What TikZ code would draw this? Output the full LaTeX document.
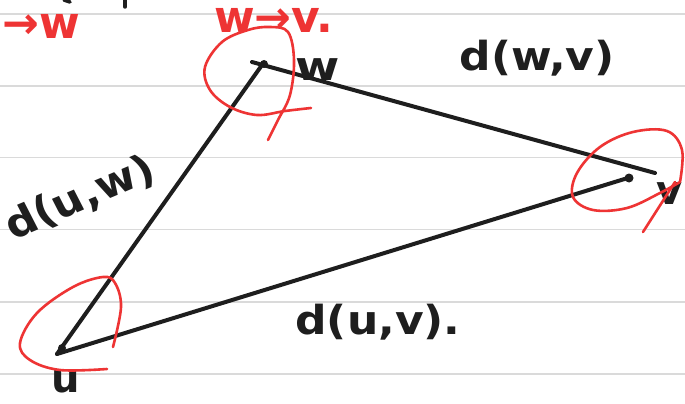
\documentclass[tikz,border=0pt]{standalone}
\usepackage{fontspec}
\setmainfont{DejaVu Sans}
\definecolor{ink}{RGB}{30,30,30}
\definecolor{pen}{RGB}{238,52,52}
\definecolor{rule}{RGB}{218,218,218}
\tikzset{
  ruleline/.style={draw=rule, line width=1.6pt},
  edge/.style={draw=ink, line width=4pt, line cap=round},
  loopline/.style={draw=pen, line width=2.6pt, line cap=round, line join=round},
  hand/.style={text=ink, inner sep=0pt, font=\fontsize{40}{42}\selectfont\bfseries},
  redhand/.style={text=pen, inner sep=0pt, font=\fontsize{44}{46}\selectfont\bfseries},
  vdot/.style={fill=ink, circle, inner sep=0pt, minimum size=8pt},
}
\begin{document}
\begin{tikzpicture}[x=1pt,y=-1pt]
\useasboundingbox[fill=white] (0,0) rectangle (685,404);
% ruled paper
\foreach \yy in {14,86,157.5,229.5,302,374}
  \draw[ruleline] (0,\yy) -- (685,\yy);
% cut-off strokes at the top
\draw[edge, line width=3.5pt] (64,0) -- (70,2);
\draw[edge, line width=3.5pt] (125,0) -- (125,7);
% vertices
\coordinate (u) at (57,354);
\coordinate (w) at (262,65);
\coordinate (v) at (631,177);
\coordinate (wstart) at (252,62);
\coordinate (vend) at (655,173);
\node[vdot] (udot) at (62,348) {};
\node[vdot] (wdot) at (264,64) {};
\node[vdot, minimum size=9pt] (vdotn) at (629,178) {};
% edges
\draw[edge] (u) -- (w);
\draw[edge] (u) -- (v);
\draw[edge] (wstart) -- (vend);
% vertex labels
\node[hand, xscale=1.2] (wlab) at (318,70) {w};
\node[hand] (vlab) at (670,194) {v};
\node[hand] (ulab) at (66,382) {u};
% edge labels
\node[hand, xscale=1.1] (dwv) at (537,58) {d(w,v)};
\node[hand, xscale=1.1, rotate=25] (duw) at (80,198) {d(u,w)};
\node[hand, xscale=1.1] (duv) at (378,322) {d(u,v).};
% red annotations
\node[redhand, anchor=east] (rw) at (80,26) {→w};
\node[redhand] (wv) at (274,20) {w→v.};
% red loops
\draw[loopline] plot[smooth, tension=0.6] coordinates {(311,108) (285,111) (257,115) (230,107) (210,90) (205,67) (222,42) (248,30) (270,27) (288,32) (294,60) (290,95) (278,120) (268,140)};
\draw[loopline] plot[smooth, tension=0.6] coordinates {(680,182) (660,193) (627,208) (593,210) (573,197) (577,173) (600,147) (633,132) (667,131) (682,150) (680,182)};
\draw[loopline] (675,182) -- (643,232);
\draw[loopline] plot[smooth, tension=0.6] coordinates {(113,347) (121,307) (115,283) (103,277) (73,287) (37,313) (20,343) (30,360) (60,370) (107,369)};
\end{tikzpicture}
\end{document}
